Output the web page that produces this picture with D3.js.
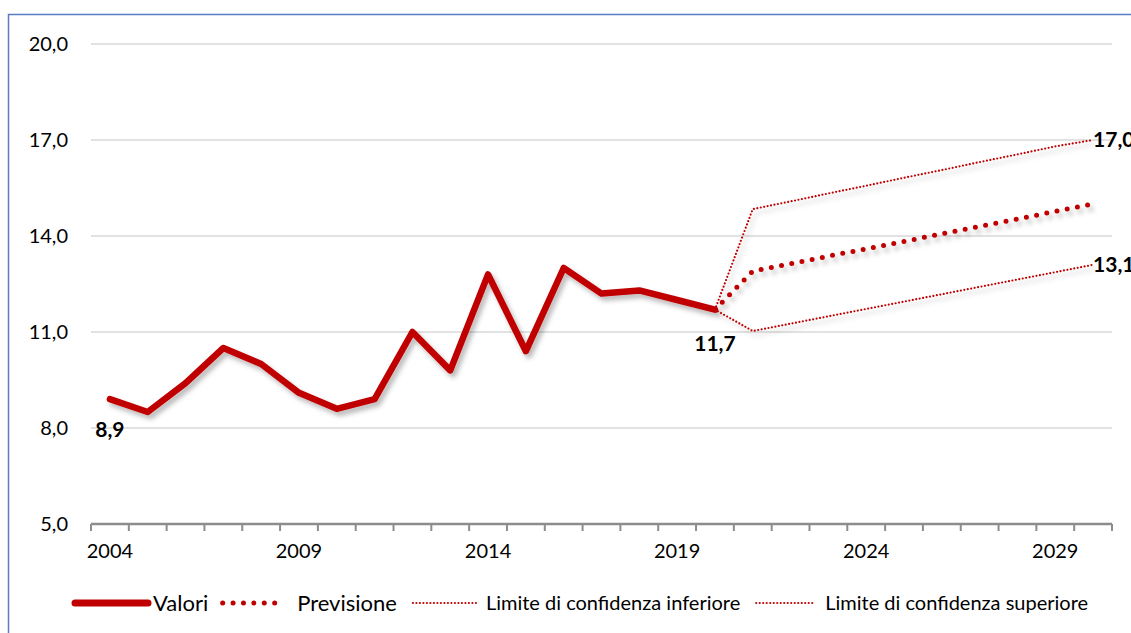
<!DOCTYPE html>
<html lang="it">
<head>
<meta charset="utf-8">
<title>Valori e previsione</title>
<script src="https://cdn.jsdelivr.net/npm/d3@7"></script>
<style>
  body { margin: 0; background: #fff; }
  svg { display: block; font-family: Lato, "Noto Sans", sans-serif; }
  .grid line { stroke: #d9d9d9; stroke-width: 1.5; }
  .tick-label { font-size: 20px; fill: #000; }
  .data-label { font-size: 21px; font-weight: bold; fill: #000; }
</style>
</head>
<body>
<div id="chart"></div>
<script>
// categories
const years = [2004, 2005, 2006, 2007, 2008, 2009, 2010, 2011, 2012, 2013, 2014, 2015, 2016, 2017,
               2018, 2019, 2020, 2021, 2022, 2023, 2024, 2025, 2026, 2027, 2028, 2029, 2030];
const yearLabels = [2004, 2009, 2014, 2019, 2024, 2029];
const yTicks = [5, 8, 11, 14, 17, 20];

// series
const valoriYears = [2004, 2005, 2006, 2007, 2008, 2009, 2010, 2011, 2012, 2013, 2014, 2015, 2016, 2017, 2018, 2019, 2020];
const valori = [8.9, 8.5, 9.4, 10.5, 10.0, 9.1, 8.6, 8.9, 11.0, 9.8, 12.8, 10.4, 13.0, 12.2, 12.3, 12.0, 11.7];

const forecastYears = [2020, 2021, 2022, 2023, 2024, 2025, 2026, 2027, 2028, 2029, 2030];
const previsione = [11.7, 12.9, 13.13, 13.37, 13.6, 13.83, 14.07, 14.3, 14.53, 14.77, 15.0];
const limiteInf = [11.7, 11.03, 11.26, 11.49, 11.72, 11.95, 12.18, 12.41, 12.64, 12.87, 13.1];
const limiteSup = [11.7, 14.84, 15.08, 15.33, 15.57, 15.82, 16.06, 16.31, 16.55, 16.8, 17.0];

const seriesNames = ["Valori", "Previsione", "Limite di confidenza inferiore", "Limite di confidenza superiore"];

const width = 1131, height = 633;
const fmt = v => d3.format(".1f")(v).replace(".", ",");

const svg = d3.select("#chart").append("svg")
    .attr("width", width)
    .attr("height", height);

// soft shadow under the lines
const defs = svg.append("defs");
defs.append("filter")
    .attr("id", "shadow")
    .attr("x", "-10%").attr("y", "-20%")
    .attr("width", "130%").attr("height", "150%")
  .append("feDropShadow")
    .attr("dx", 3).attr("dy", 4)
    .attr("stdDeviation", 2.5)
    .attr("flood-color", "#000")
    .attr("flood-opacity", 0.28);

// outer border (runs off right/bottom like the reference)
svg.append("rect")
    .attr("x", 8.5).attr("y", 14.5)
    .attr("width", width + 20).attr("height", height + 20)
    .attr("fill", "none")
    .attr("stroke", "#5b7cc0")
    .attr("stroke-width", 1.5);

const x = d3.scaleBand()
    .domain(years)
    .range([91, 1112])
    .paddingInner(0).paddingOuter(0);
const cx = d => x(d) + x.bandwidth() / 2;

const y = d3.scaleLinear()
    .domain([5, 20])
    .range([524, 44]);

// gridlines
svg.append("g").attr("class", "grid")
  .selectAll("line")
  .data(yTicks.filter(d => d !== 5))
  .join("line")
    .attr("x1", 91).attr("x2", 1112)
    .attr("y1", d => y(d)).attr("y2", d => y(d));

// y labels
svg.append("g")
  .selectAll("text")
  .data(yTicks)
  .join("text")
    .attr("class", "tick-label")
    .attr("x", 68)
    .attr("y", d => y(d))
    .attr("dy", "0.35em")
    .attr("text-anchor", "end")
    .text(fmt);

// x axis
const xAxis = svg.append("g");
xAxis.append("line")
    .attr("x1", 91).attr("x2", 1112)
    .attr("y1", y(5)).attr("y2", y(5))
    .attr("stroke", "#8c8c8c").attr("stroke-width", 2.5);
const tickPos = years.map(d => x(d)).concat([x.range()[1]]);
xAxis.selectAll("line.tk")
  .data(tickPos)
  .join("line")
    .attr("class", "tk")
    .attr("x1", d => d).attr("x2", d => d)
    .attr("y1", y(5)).attr("y2", y(5) + 7)
    .attr("stroke", "#8c8c8c").attr("stroke-width", 2);
xAxis.selectAll("text")
  .data(yearLabels)
  .join("text")
    .attr("class", "tick-label")
    .attr("x", d => cx(d))
    .attr("y", 558)
    .attr("text-anchor", "middle")
    .text(d => d);

const red = "#c00000";
const styles = [
  { width: 6.5, dash: null, cap: "round" },
  { width: 5, dash: "0 10.4", cap: "round" },
  { width: 2.2, dash: "0 3.5", cap: "round" },
  { width: 2.2, dash: "0 3.5", cap: "round" }
];

const line = d3.line()
    .x(d => cx(d[0]))
    .y(d => y(d[1]));

const seriesData = [
  d3.zip(valoriYears, valori),
  d3.zip(forecastYears, previsione),
  d3.zip(forecastYears, limiteInf),
  d3.zip(forecastYears, limiteSup)
];

const lines = svg.append("g").attr("filter", "url(#shadow)");
seriesData.forEach((data, i) => {
  lines.append("path")
      .attr("d", line(data))
      .attr("fill", "none")
      .attr("stroke", red)
      .attr("stroke-width", styles[i].width)
      .attr("stroke-linecap", styles[i].cap)
      .attr("stroke-linejoin", "round")
      .attr("stroke-dasharray", styles[i].dash);
});

// data labels
const last = arr => arr[arr.length - 1];
const labels = [
  { d: seriesData[0][0], dy: 38, anchor: "middle" },
  { d: last(seriesData[0]), dy: 41, anchor: "middle" },
  { d: last(seriesData[3]), dy: 7, anchor: "start" },
  { d: last(seriesData[2]), dy: 7, anchor: "start" }
];
svg.append("g")
  .selectAll("text")
  .data(labels)
  .join("text")
    .attr("class", "data-label")
    .attr("x", l => cx(l.d[0]))
    .attr("y", l => y(l.d[1]) + l.dy)
    .attr("text-anchor", l => l.anchor)
    .text(l => fmt(l.d[1]));

// legend
const legendSizes = [22, 22, 20, 20];
const legendSample = [73, 67, 68, 60];
const gapBefore = [5, 10, 6, 10];
const gapAfter = [12, 15, 15, 0];
const legend = svg.append("g");
let lx = 75;
const ly = 603;
seriesNames.forEach((name, i) => {
  const s = styles[i];
  const off = i === 0 ? 0 : (i === 1 ? 2.5 : 1);
  legend.append("line")
      .attr("x1", lx + off).attr("x2", lx + legendSample[i] - off)
      .attr("y1", ly).attr("y2", ly)
      .attr("stroke", red)
      .attr("stroke-width", i === 0 ? 7 : s.width)
      .attr("stroke-linecap", s.cap)
      .attr("stroke-dasharray", s.dash);
  lx += legendSample[i] + gapBefore[i];
  const t = legend.append("text")
      .attr("x", lx).attr("y", ly)
      .attr("dy", "0.35em")
      .attr("font-size", legendSizes[i])
      .attr("fill", "#000")
      .text(name);
  lx += t.node().getComputedTextLength() + gapAfter[i];
});
</script>
</body>
</html>
